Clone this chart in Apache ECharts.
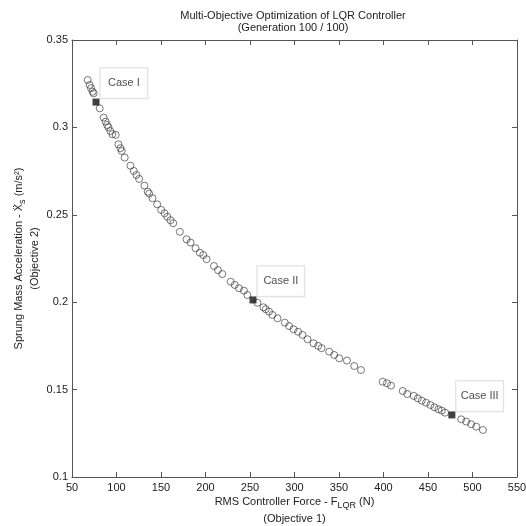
<!DOCTYPE html>
<html>
<head>
<meta charset="utf-8">
<script src="https://cdn.jsdelivr.net/npm/echarts@6/dist/echarts.min.js"></script>
<style>
  html, body { margin: 0; padding: 0; background: #fff; }
  #chart { width: 526px; height: 526px; }
</style>
</head>
<body>
<div id="chart"></div>
<script>
// Pareto front: RMS controller force (N) vs sprung mass acceleration (m/s^2)
const forceValues = [67.6, 69.8, 71.4, 73.2, 74.3, 81.1, 85.6, 87.8, 89.4, 90.9,
  93.1, 95.4, 99.1, 102.1, 104.4, 105.9, 109.2, 115.7, 119.4, 122.4,
  125.4, 131.4, 135.1, 136.7, 140.4, 145.7, 150.2, 153.9, 157.0, 160.7,
  163.7, 171.2, 178.7, 183.2, 188.8, 193.7, 197.5, 201.2, 209.5, 214.0,
  218.9, 228.3, 232.8, 237.6, 243.2, 247.1, 258.3, 265.1, 267.7, 271.4,
  275.2, 280.9, 289.1, 293.9, 298.9, 304.0, 309.0, 314.6, 321.4, 326.6,
  330.4, 339.0, 344.6, 350.2, 358.9, 367.1, 374.7, 399.1, 403.9, 408.4,
  421.6, 426.7, 434.0, 438.5, 443.0, 447.8, 452.7, 457.2, 461.7, 465.5,
  469.2, 487.3, 492.9, 498.5, 504.2, 511.7];
const accelValues = [0.3271, 0.3243, 0.3224, 0.3204, 0.3195, 0.3109, 0.3056, 0.3033, 0.3014, 0.3001,
  0.2979, 0.2961, 0.2957, 0.2903, 0.2881, 0.2865, 0.2827, 0.2781, 0.2751, 0.2728,
  0.2705, 0.2667, 0.2632, 0.2621, 0.2595, 0.2560, 0.2528, 0.2509, 0.2489, 0.2469,
  0.2452, 0.2403, 0.2360, 0.2341, 0.2309, 0.2283, 0.2270, 0.2246, 0.2207, 0.2184,
  0.2161, 0.2117, 0.2099, 0.2080, 0.2066, 0.2041, 0.1997, 0.1971, 0.1960, 0.1946,
  0.1927, 0.1908, 0.1883, 0.1864, 0.1845, 0.1831, 0.1813, 0.1788, 0.1765, 0.1750,
  0.1737, 0.1717, 0.1698, 0.1679, 0.1666, 0.1635, 0.1612, 0.1545, 0.1536, 0.1523,
  0.1492, 0.1475, 0.1464, 0.1450, 0.1437, 0.1425, 0.1412, 0.1399, 0.1388, 0.1380,
  0.1368, 0.1330, 0.1317, 0.1302, 0.1288, 0.1269];

// Selected controller designs
const caseNames = ['Case I', 'Case II', 'Case III'];
const caseForce = [77.0, 253.4, 476.8];
const caseAccel = [0.3145, 0.2013, 0.1355];

// Axis ticks
const xTicks = [50, 100, 150, 200, 250, 300, 350, 400, 450, 500, 550];
const yTicks = [0.1, 0.15, 0.2, 0.25, 0.3, 0.35];

const FONT = '"Liberation Sans", Arial, sans-serif';
const TEXT = '#222';
const FRAME = '#555';

const frontData = forceValues.map((f, i) => [f, accelValues[i]]);
const caseData = caseNames.map((n, i) => ({ name: n, value: [caseForce[i], caseAccel[i]] }));

const xRange = { min: xTicks[0], max: xTicks[xTicks.length - 1], interval: xTicks[1] - xTicks[0] };
const yRange = { min: yTicks[0], max: yTicks[yTicks.length - 1], interval: 0.05 };

const fmtY = v => String(parseFloat(v.toFixed(2)));

const baseAxis = {
  axisLine: { show: true, lineStyle: { color: FRAME, width: 1 } },
  axisTick: { show: true, inside: true, length: 5, lineStyle: { color: FRAME } },
  splitLine: { show: false },
  axisLabel: { color: TEXT, fontSize: 11, fontFamily: FONT }
};

const chart = echarts.init(document.getElementById('chart'), null, { renderer: 'canvas' });
chart.setOption({
  backgroundColor: '#fff',
  animation: false,
  title: {
    text: 'Multi-Objective Optimization of LQR Controller\n(Generation 100 / 100)',
    left: 293,
    top: 10,
    padding: 0,
    textAlign: 'center',
    textStyle: { fontSize: 11, fontWeight: 'normal', color: TEXT, fontFamily: FONT, lineHeight: 12 }
  },
  grid: { left: 72, right: 9, top: 40, bottom: 49, containLabel: false, outerBoundsMode: 'none' },
  xAxis: [
    Object.assign({}, baseAxis, {
      type: 'value', position: 'bottom', ...xRange,
      axisLabel: Object.assign({}, baseAxis.axisLabel, { margin: 5 }),
      name: '{a|RMS Controller Force - F}{sub|LQR}{a| (N)}\n{a|(Objective 1)}',
      nameLocation: 'middle',
      nameGap: 16,
      nameMoveOverlap: false,
      nameTextStyle: {
        color: TEXT, fontFamily: FONT, fontSize: 11, lineHeight: 17,
        rich: {
          a: { fontSize: 11, fontFamily: FONT, color: TEXT, lineHeight: 17 },
          sub: { fontSize: 9, fontFamily: FONT, color: TEXT, lineHeight: 9, verticalAlign: 'bottom' }
        }
      }
    }),
    Object.assign({}, baseAxis, {
      type: 'value', position: 'top', ...xRange,
      axisLabel: { show: false }
    })
  ],
  yAxis: [
    Object.assign({}, baseAxis, {
      type: 'value', position: 'left', ...yRange,
      axisLabel: Object.assign({}, baseAxis.axisLabel, { margin: 4, formatter: fmtY }),
      name: '{a|Sprung Mass Acceleration - X\u0308}{sub|s}{a| (m/s\u00B2)}\n{a|(Objective 2)}',
      nameLocation: 'middle',
      nameGap: 29,
      nameMoveOverlap: false,
      nameRotate: 90,
      nameTextStyle: {
        color: TEXT, fontFamily: FONT, fontSize: 11, lineHeight: 16,
        rich: {
          a: { fontSize: 11, fontFamily: FONT, color: TEXT, lineHeight: 16 },
          sub: { fontSize: 9, fontFamily: FONT, color: TEXT, lineHeight: 9, verticalAlign: 'bottom' }
        }
      }
    }),
    Object.assign({}, baseAxis, {
      type: 'value', position: 'right', ...yRange,
      axisLabel: { show: false }
    })
  ],
  series: [
    {
      name: 'Pareto front',
      type: 'scatter',
      xAxisIndex: 0, yAxisIndex: 0,
      data: frontData,
      symbol: 'circle',
      symbolSize: 7,
      itemStyle: { color: 'rgba(255,255,255,0)', borderColor: '#2a2a2a', borderWidth: 0.8 },
      emphasis: { disabled: true },
      z: 2
    },
    {
      name: 'Cases',
      type: 'scatter',
      xAxisIndex: 0, yAxisIndex: 0,
      data: caseData,
      symbol: 'rect',
      symbolSize: 7,
      itemStyle: { color: '#111', borderWidth: 0 },
      emphasis: { disabled: true },
      z: 3,
      label: {
        show: true,
        position: [7.8, -30.2],
        formatter: p => '{c|' + p.name + '}',
        backgroundColor: '#fff',
        borderColor: '#d6d6d6',
        borderWidth: 1,
        padding: [8, 7],
        rich: {
          c: { width: 33, align: 'center', fontSize: 11, fontFamily: FONT, color: TEXT, lineHeight: 14 }
        }
      }
    }
  ]
});
</script>
</body>
</html>
